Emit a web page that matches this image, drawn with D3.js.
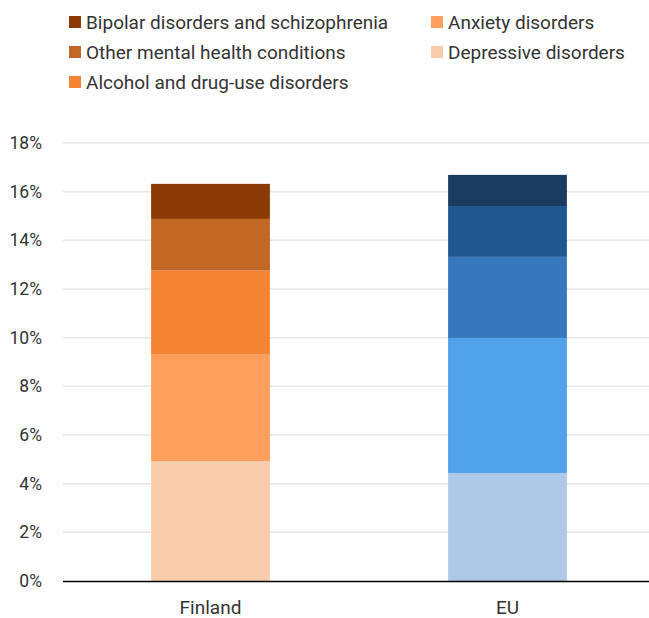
<!DOCTYPE html>
<html>
<head>
<meta charset="utf-8">
<script src="https://cdn.jsdelivr.net/npm/d3@7"></script>
<style>
  body { margin: 0; background: #fff; }
  text { font-family: "Roboto", sans-serif; fill: #333; }
</style>
</head>
<body>
<svg width="649" height="618"></svg>
<script>
let svg = d3.select('svg');

// categories (bottom to top) and values, % of population
let regions = ['Finland', 'EU'];
let conditions = ['Depressive disorders', 'Anxiety disorders', 'Alcohol and drug-use disorders',
  'Other mental health conditions', 'Bipolar disorders and schizophrenia'];
let finland = [4.93, 4.40, 3.43, 2.12, 1.44];
let eu = [4.44, 5.55, 3.33, 2.09, 1.28];
let yTicks = [0, 2, 4, 6, 8, 10, 12, 14, 16, 18];

let finlandColors = ['#f9cdac', '#fda05e', '#f48333', '#c26724', '#8b3a06'];
let euColors = ['#adc9e7', '#4fa1ea', '#3777bc', '#1f5791', '#1b3b5f'];

let scaleY = d3.scaleLinear().domain([0, 18]).range([581, 143]);
let scaleX = d3.scaleBand().domain(regions).range([62, 656]).paddingInner(0.6).paddingOuter(0.3);

// gridlines
svg.append('g')
  .selectAll('line')
  .data(yTicks.filter(d => d > 0))
  .enter()
  .append('line')
  .attr('x1', 63).attr('x2', 649)
  .attr('y1', d => scaleY(d)).attr('y2', d => scaleY(d))
  .attr('stroke', '#e6e6e6')
  .attr('stroke-width', 1.5);

// y labels
svg.append('g')
  .selectAll('text')
  .data(yTicks)
  .enter()
  .append('text')
  .attr('x', 42)
  .attr('y', d => scaleY(d))
  .attr('dy', '0.35em')
  .attr('text-anchor', 'end')
  .attr('font-size', 17.5)
  .text(d => d + '%');

// stacked bars
let series = [finland, eu];
let palettes = [finlandColors, euColors];
regions.forEach((region, i) => {
  let stack = [];
  let base = 0;
  series[i].forEach((v, j) => {
    stack.push({ y0: base, y1: base + v, color: palettes[i][j] });
    base += v;
  });
  svg.append('g')
    .selectAll('rect')
    .data(stack)
    .enter()
    .append('rect')
    .attr('x', scaleX(region))
    .attr('width', scaleX.bandwidth())
    .attr('y', d => scaleY(d.y1))
    .attr('height', d => scaleY(d.y0) - scaleY(d.y1))
    .attr('fill', d => d.color);
});

// x axis baseline
svg.append('line')
  .attr('x1', 63).attr('x2', 649)
  .attr('y1', Math.round(scaleY(0)) + 0.5).attr('y2', Math.round(scaleY(0)) + 0.5)
  .attr('stroke', '#000')
  .attr('stroke-width', 1.5);

svg.append('g')
  .selectAll('text')
  .data(regions)
  .enter()
  .append('text')
  .attr('x', d => scaleX(d) + scaleX.bandwidth() / 2)
  .attr('y', 614)
  .attr('text-anchor', 'middle')
  .attr('font-size', 19)
  .text(d => d);

// legend, top-down as in the picture
let legendItems = [
  { label: conditions[4], color: finlandColors[4], x: 69, y: 22 },
  { label: conditions[3], color: finlandColors[3], x: 69, y: 52 },
  { label: conditions[2], color: finlandColors[2], x: 69, y: 82 },
  { label: conditions[1], color: finlandColors[1], x: 431, y: 22 },
  { label: conditions[0], color: finlandColors[0], x: 431, y: 52 }
];
let legend = svg.append('g')
  .selectAll('g')
  .data(legendItems)
  .enter()
  .append('g')
  .attr('transform', d => 'translate(' + d.x + ',' + d.y + ')');
legend.append('rect')
  .attr('x', 0).attr('y', -6)
  .attr('width', 12).attr('height', 12)
  .attr('fill', d => d.color);
legend.append('text')
  .attr('x', 17)
  .attr('y', 6.5)
  .attr('font-size', 19)
  .text(d => d.label);
</script>
</body>
</html>
